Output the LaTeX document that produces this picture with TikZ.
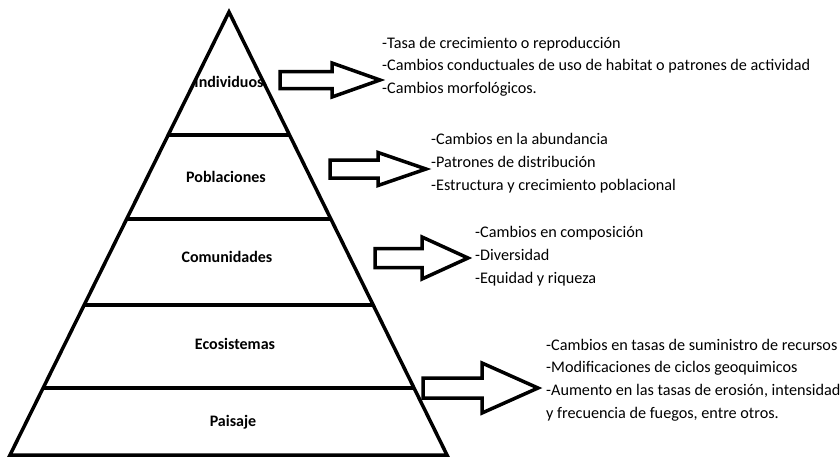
\documentclass[tikz,border=0pt]{standalone}
\usepackage{fontspec}
\setmainfont{Carlito}
\usetikzlibrary{calc}

\begin{document}
\begin{tikzpicture}[x=1pt, y=-1pt, line join=miter,
    level/.style={font=\fontsize{16}{18}\selectfont\bfseries, inner sep=0pt},
    items/.style={font=\fontsize{16.2}{22.7}\selectfont, align=left, anchor=west, inner sep=0pt},
    edge/.style={line width=3.5pt},
    blockarr/.style={draw, line width=3.5pt, fill=white}]
    \useasboundingbox (0,0) rectangle (840,458);
    % pyramid
    \coordinate (apex) at (229,12);
    \coordinate (bl) at (10,455);
    \coordinate (br) at (447,455);
    \draw[edge] (apex) -- (bl) -- (br) -- cycle;
    \foreach \t in {0.2777,0.4673,0.6614,0.8488}
        \draw[edge] ($(apex)!\t!(bl)$) -- ($(apex)!\t!(br)$);
    % levels
    \node[level] (ind) at (229,82) {Individuos};
    \node[level] (pob) at (226,177) {Poblaciones};
    \node[level] (com) at (227,257) {Comunidades};
    \node[level] (eco) at (235,344) {Ecosistemas};
    \node[level] (pai) at (233,422) {Paisaje};
    % lists
    \node[items] (l1) at (382,66.5) {-Tasa de crecimiento o reproducción\\-Cambios conductuales de uso de habitat o patrones de actividad\\-Cambios morfológicos.};
    \node[items] (l2) at (431,163) {-Cambios en la abundancia\\-Patrones de distribución\\-Estructura y crecimiento poblacional};
    \node[items] (l3) at (475,256) {-Cambios en composición\\-Diversidad\\-Equidad y riqueza};
    \node[items] (l4) at (546,380) {-Cambios en tasas de suministro de recursos\\-Modificaciones de ciclos geoquimicos\\-Aumento en las tasas de erosión, intensidad\\y frecuencia de fuegos, entre otros.};
    % arrows
    \coordinate (t1) at (280,80);
    \coordinate (t2) at (330,169);
    \coordinate (t3) at (375,258);
    \coordinate (t4) at (423,388);
    \draw[blockarr] (t1) ++(0,-8.5) -- ++(52,0) -- ++(0,-8.5) -- ++(48,17) -- ++(-48,17) -- ++(0,-8.5) -- ++(-52,0) -- cycle;
    \draw[blockarr] (t2) ++(0,-9) -- ++(48,0) -- ++(0,-7.5) -- ++(48,16.5) -- ++(-48,16.5) -- ++(0,-7.5) -- ++(-48,0) -- cycle;
    \draw[blockarr] (t3) ++(0,-9.5) -- ++(47,0) -- ++(0,-11.5) -- ++(46,21) -- ++(-46,21) -- ++(0,-11.5) -- ++(-47,0) -- cycle;
    \draw[blockarr] (t4) ++(0,-10) -- ++(59,0) -- ++(0,-15) -- ++(56,25) -- ++(-56,25) -- ++(0,-15) -- ++(-59,0) -- cycle;
\end{tikzpicture}
\end{document}
